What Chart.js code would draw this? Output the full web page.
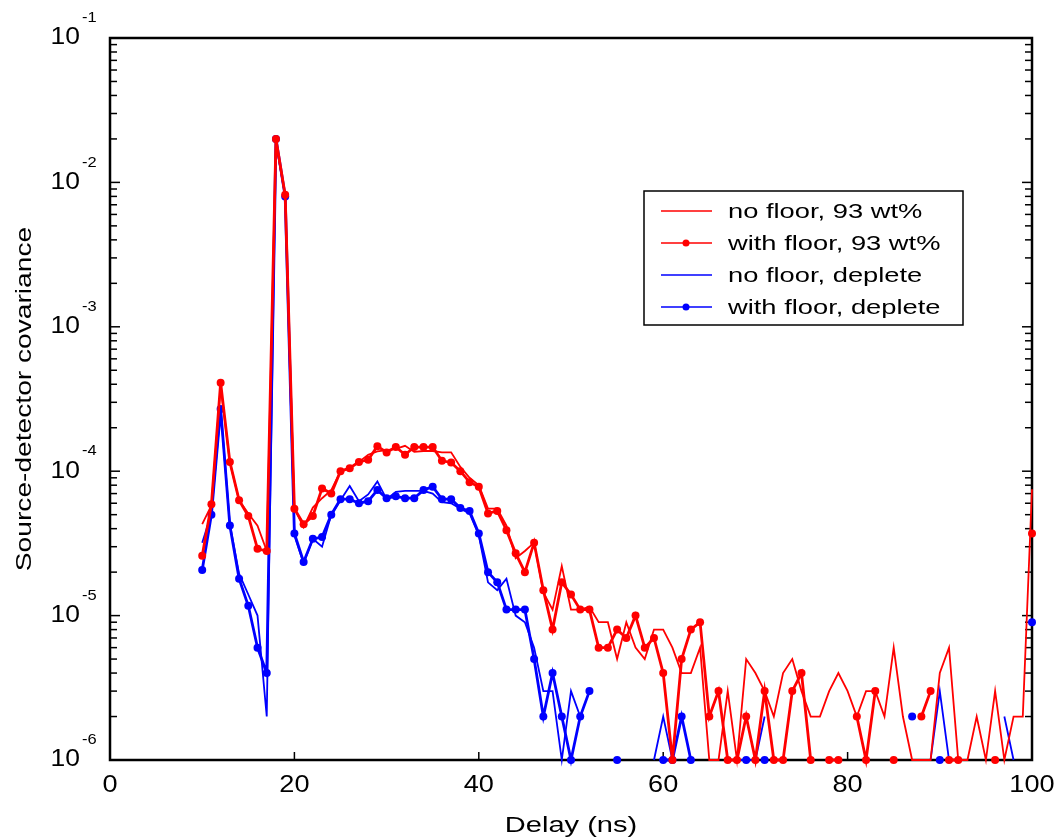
<!DOCTYPE html>
<html>
<head>
<meta charset="utf-8">
<script src="https://cdn.jsdelivr.net/npm/chart.js@4"></script>
<style>
  html, body { margin: 0; padding: 0; background: #fff; }
  #wrap { width: 1058px; height: 840px; }
</style>
</head>
<body>
<div id="wrap"><canvas id="myChart" width="1058" height="840"></canvas></div>
<script>
// delay in ns, one value per point
var delay = [10, 11, 12, 13, 14, 15, 16, 17, 18, 19,
  20, 21, 22, 23, 24, 25, 26, 27, 28, 29,
  30, 31, 32, 33, 34, 35, 36, 37, 38, 39,
  40, 41, 42, 43, 44, 45, 46, 47, 48, 49,
  50, 51, 52, 53, 54, 55, 56, 57, 58, 59,
  60, 61, 62, 63, 64, 65, 66, 67, 68, 69,
  70, 71, 72, 73, 74, 75, 76, 77, 78, 79,
  80, 81, 82, 83, 84, 85, 86, 87, 88, 89,
  90, 91, 92, 93, 94, 95, 96, 97, 98, 99, 100];

var redNoFloor = [4.3e-5, 5.8e-5, 3.9e-4, 1.15e-4, 6.3e-5, 5.1e-5, 4.2e-5, 2.8e-5, 1.9e-2, 8.0e-3,
  5.5e-5, 4.1e-5, 5.6e-5, 6.5e-5, 7.4e-5, 1.0e-4, 1.05e-4, 1.16e-4, 1.3e-4, 1.37e-4,
  1.4e-4, 1.43e-4, 1.5e-4, 1.36e-4, 1.38e-4, 1.38e-4, 1.35e-4, 1.35e-4, 1.07e-4, 9.0e-5,
  8.0e-5, 5.5e-5, 5.5e-5, 4.2e-5, 2.5e-5, 2.8e-5, 3.2e-5, 1.45e-5, 1.1e-5, 2.2e-5,
  1.1e-5, 1.1e-5, 1.15e-5, 9e-6, 9e-6, 5e-6, 9e-6, 6e-6, 5e-6, 8e-6,
  8e-6, 6e-6, 4e-6, 4e-6, 6e-6, 1e-6, 1e-6, 3e-6, 1e-6, 5e-6,
  4e-6, 3e-6, 2e-6, 4e-6, 5e-6, 3e-6, 2e-6, 2e-6, 3e-6, 4e-6,
  3e-6, 2e-6, 3e-6, 3e-6, 2e-6, 6e-6, 2e-6, 1e-6, 1e-6, 1e-6,
  4e-6, 6e-6, 1e-6, 1e-6, 2e-6, 1e-6, 3e-6, 1e-6, 2e-6, 2e-6, 7.5e-5];

var redWithFloor = [2.6e-5, 5.9e-5, 4.1e-4, 1.16e-4, 6.3e-5, 4.9e-5, 2.9e-5, 2.8e-5, 2.0e-2, 8.2e-3,
  5.5e-5, 4.3e-5, 4.9e-5, 7.6e-5, 7.0e-5, 1.0e-4, 1.05e-4, 1.16e-4, 1.2e-4, 1.49e-4,
  1.35e-4, 1.47e-4, 1.3e-4, 1.47e-4, 1.47e-4, 1.47e-4, 1.18e-4, 1.15e-4, 1.0e-4, 8.4e-5,
  7.8e-5, 5.1e-5, 5.3e-5, 3.9e-5, 2.7e-5, 2.0e-5, 3.2e-5, 1.5e-5, 8e-6, 1.7e-5,
  1.4e-5, 1.1e-5, 1.1e-5, 6e-6, 6e-6, 8e-6, 7e-6, 1e-5, 6e-6, 7e-6,
  4e-6, 1e-6, 5e-6, 8e-6, 9e-6, 2e-6, 3e-6, 1e-6, 1e-6, 2e-6,
  1e-6, 3e-6, 1e-6, 1e-6, 3e-6, 4e-6, 1e-6, null, 1e-6, 1e-6,
  null, 2e-6, 1e-6, 3e-6, null, 1e-6, null, null, 2e-6, 3e-6,
  null, 1e-6, 1e-6, null, null, null, 1e-6, null, null, null, 3.7e-5];

var blueNoFloor = [3.2e-5, 5.1e-5, 2.7e-4, 4.3e-5, 1.95e-5, 1.4e-5, 1.0e-5, 2e-6, 1.9e-2, 8.0e-3,
  3.6e-5, 2.3e-5, 3.4e-5, 3.0e-5, 5.0e-5, 6.3e-5, 7.9e-5, 6.2e-5, 6.9e-5, 8.5e-5,
  6.4e-5, 7.2e-5, 7.3e-5, 7.3e-5, 7.3e-5, 7.0e-5, 6.1e-5, 6.0e-5, 5.5e-5, 5.1e-5,
  3.6e-5, 1.7e-5, 1.5e-5, 1.8e-5, 1.0e-5, 9e-6, 6e-6, 3e-6, 3e-6, 1e-6,
  3e-6, 2e-6, null, null, null, null, null, null, null, 1e-6,
  2e-6, 1e-6, null, null, null, 1e-6, 1e-6, null, 1e-6, 1e-6,
  1e-6, 2e-6, null, null, null, null, null, null, null, null,
  null, null, null, null, null, null, null, null, null, 1e-6,
  3e-6, 1e-6, 1e-6, 1e-6, null, null, null, 2e-6, 1e-6, null, 1.8e-5];

var blueWithFloor = [2.07e-5, 5.0e-5, 2.7e-4, 4.2e-5, 1.8e-5, 1.17e-5, 6e-6, 4e-6, 2.0e-2, 8.0e-3,
  3.7e-5, 2.35e-5, 3.4e-5, 3.5e-5, 5.0e-5, 6.4e-5, 6.4e-5, 6.0e-5, 6.2e-5, 7.4e-5,
  6.5e-5, 6.7e-5, 6.5e-5, 6.5e-5, 7.4e-5, 7.8e-5, 6.4e-5, 6.4e-5, 5.55e-5, 5.3e-5,
  3.7e-5, 2.0e-5, 1.7e-5, 1.1e-5, 1.1e-5, 1.1e-5, 5e-6, 2e-6, 4e-6, 2e-6,
  1e-6, 2e-6, 3e-6, null, null, 1e-6, null, null, null, null,
  1e-6, 1e-6, 2e-6, 1e-6, null, null, null, null, null, 1e-6,
  null, 1e-6, null, null, null, null, null, null, null, null,
  null, null, null, null, null, null, null, 2e-6, null, null,
  1e-6, null, null, null, null, null, null, null, null, null, 9e-6];

var seriesNames = ['no floor, 93 wt%', 'with floor, 93 wt%', 'no floor, deplete', 'with floor, deplete'];
var xTicks = [0, 20, 40, 60, 80, 100];
var yExponents = [-6, -5, -4, -3, -2, -1];

var FONT = '"Liberation Sans", Arial, Helvetica, sans-serif';

function pts(values) {
    return delay.map(function (d, i) { return { x: d, y: values[i] }; });
}

function seg(ctx, x1, y1, x2, y2) {
    ctx.beginPath();
    ctx.moveTo(x1, y1);
    ctx.lineTo(x2, y2);
    ctx.stroke();
}

// the old plot uses a wide Helvetica, so stretch text a bit
function label(ctx, str, x, y, size, align, sx, angle) {
    ctx.save();
    ctx.font = size + 'px ' + FONT;
    ctx.textAlign = align;
    ctx.textBaseline = 'middle';
    ctx.fillStyle = '#000';
    ctx.translate(x, y);
    if (angle) ctx.rotate(angle);
    ctx.scale(sx, 1);
    ctx.fillText(str, 0, 0);
    ctx.restore();
}

// frame, inward ticks, tick labels and axis titles
var framePlugin = {
    id: 'frame',
    beforeDatasetsDraw: function (chart) {
        var ctx = chart.ctx, a = chart.chartArea;
        var xs = chart.scales.x, ys = chart.scales.y;
        ctx.save();
        ctx.strokeStyle = '#000';
        ctx.lineWidth = 1.5;
        // y ticks, both sides
        yExponents.forEach(function (e) {
            for (var m = 1; m < 10; m++) {
                if (e === -1 && m > 1) break;
                var py = ys.getPixelForValue(Number(m + 'e' + e));
                var len = m === 1 ? 10 : 7;
                seg(ctx, a.left, py, a.left + len, py);
                seg(ctx, a.right, py, a.right - len, py);
            }
        });
        // x ticks
        xTicks.forEach(function (v) {
            var px = xs.getPixelForValue(v);
            seg(ctx, px, a.bottom, px, a.bottom - 8);
        });
        ctx.lineWidth = 2.5;
        ctx.strokeRect(a.left, a.top, a.right - a.left, a.bottom - a.top);
        ctx.restore();

        // y labels: 10 with exponent
        yExponents.forEach(function (e) {
            var py = ys.getPixelForValue(Number('1e' + e));
            label(ctx, '10', a.left - 30, py, 23, 'right', 1.15);
            label(ctx, String(e), a.left - 28, py - 20, 15, 'left', 1.1);
        });
        // x labels
        xTicks.forEach(function (v) {
            label(ctx, String(v), xs.getPixelForValue(v), a.bottom + 26, 23, 'center', 1.18);
        });
        // titles
        label(ctx, 'Delay (ns)', (a.left + a.right) / 2, a.bottom + 66, 22, 'center', 1.32);
        label(ctx, 'Source-detector covariance', 25, (a.top + a.bottom) / 2, 22, 'center', 1.28, -Math.PI / 2);
    },
    afterDraw: function (chart) {
        // legend box
        var ctx = chart.ctx;
        ctx.save();
        ctx.fillStyle = '#fff';
        ctx.fillRect(644, 191, 319, 134);
        ctx.strokeStyle = '#000';
        ctx.lineWidth = 1.5;
        ctx.strokeRect(644, 191, 319, 134);
        chart.data.datasets.forEach(function (ds, i) {
            var ry = 211 + i * 32;
            ctx.strokeStyle = ds.borderColor;
            ctx.lineWidth = 1.5;
            seg(ctx, 661, ry, 712, ry);
            if (ds.pointRadius > 0) {
                ctx.fillStyle = ds.borderColor;
                ctx.beginPath();
                ctx.arc(686, ry, 3.5, 0, Math.PI * 2);
                ctx.fill();
            }
            label(ctx, ds.label, 728, ry + 1, 21, 'left', 1.3);
        });
        ctx.restore();
    }
};

var ctx = document.getElementById('myChart').getContext('2d');
var myChart = new Chart(ctx, {
    type: 'line',
    data: {
        datasets: [{
            label: seriesNames[0],
            data: pts(redNoFloor),
            borderColor: '#ff0000',
            borderWidth: 1.8,
            pointRadius: 0
        }, {
            label: seriesNames[1],
            data: pts(redWithFloor),
            borderColor: '#ff0000',
            backgroundColor: '#ff0000',
            borderWidth: 2.8,
            pointRadius: 4,
            pointBorderWidth: 0
        }, {
            label: seriesNames[2],
            data: pts(blueNoFloor),
            borderColor: '#0000ff',
            borderWidth: 1.8,
            pointRadius: 0
        }, {
            label: seriesNames[3],
            data: pts(blueWithFloor),
            borderColor: '#0000ff',
            backgroundColor: '#0000ff',
            borderWidth: 2.8,
            pointRadius: 4,
            pointBorderWidth: 0
        }]
    },
    options: {
        responsive: false,
        animation: false,
        spanGaps: false,
        clip: false,
        layout: { padding: { left: 110, right: 26, top: 38, bottom: 80 } },
        elements: { line: { tension: 0 } },
        plugins: {
            legend: { display: false },
            tooltip: { enabled: false }
        },
        scales: {
            x: {
                type: 'linear',
                min: 0,
                max: 100,
                grid: { display: false },
                border: { display: false },
                ticks: { display: false },
                afterFit: function (s) { s.height = 0; }
            },
            y: {
                type: 'logarithmic',
                min: 1e-6,
                max: 1e-1,
                grid: { display: false },
                border: { display: false },
                ticks: { display: false },
                afterFit: function (s) { s.width = 0; }
            }
        }
    },
    plugins: [framePlugin]
});
</script>
</body>
</html>
